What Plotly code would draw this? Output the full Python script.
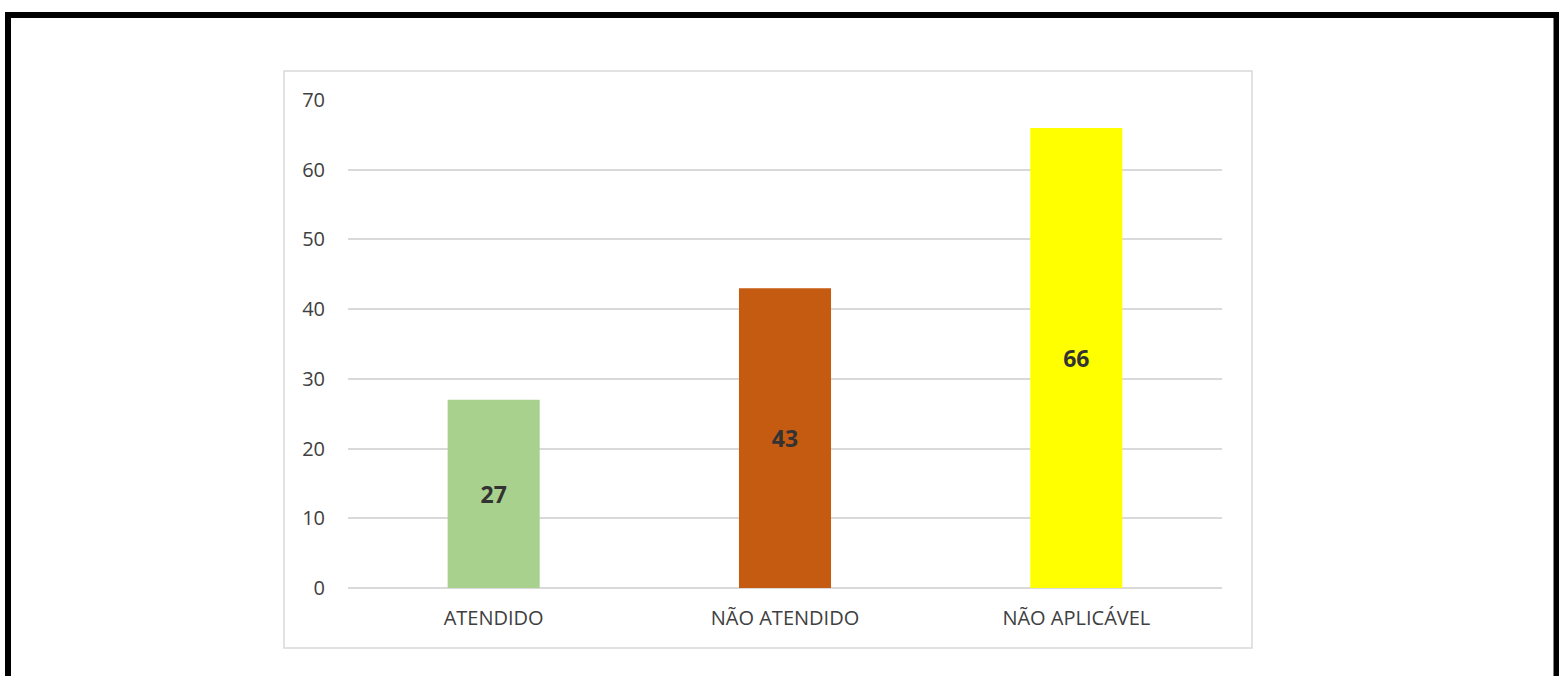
import plotly.graph_objects as go

categories = ["ATENDIDO", "NÃO ATENDIDO", "NÃO APLICÁVEL"]
values = [27, 43, 66]
colors = ["#a9d18e", "#c55a11", "#ffff00"]
y_ticks = [0, 10, 20, 30, 40, 50, 60, 70]

W, H = 1559, 676
L, R, T, B = 348, 1222, 100, 588

def px(x):
    return (x - L) / (R - L)

def py(y):
    return (B - y) / (B - T)

fig = go.Figure()
fig.add_trace(go.Bar(
    x=categories, y=values,
    marker=dict(color=colors, line=dict(width=0)),
    text=[str(v) for v in values],
    textposition="inside",
    insidetextanchor="middle",
    textangle=0,
    textfont=dict(family="Open Sans", size=23, color="#333333", weight="bold"),
    width=0.316,
    hoverinfo="skip",
))

shapes = [
    dict(type="rect", xref="paper", yref="paper",
         x0=px(284), x1=px(1252), y0=py(648), y1=py(71),
         line=dict(color="#d9d9d9", width=1.5), fillcolor="rgba(0,0,0,0)", layer="below"),
    dict(type="rect", xref="paper", yref="paper",
         x0=px(8), x1=px(1556.5), y0=py(720), y1=py(15),
         line=dict(color="black", width=6), fillcolor="rgba(0,0,0,0)"),
]

fig.update_layout(
    width=W, height=H,
    margin=dict(l=L, r=W - R, t=T, b=H - B),
    paper_bgcolor="white", plot_bgcolor="white",
    showlegend=False,
    shapes=shapes,
    font=dict(family="Open Sans", size=20, color="#404040"),
    xaxis=dict(showgrid=False, showline=False, zeroline=False, ticks="",
               ticklabelstandoff=16,
               tickfont=dict(size=20, color="#404040")),
    yaxis=dict(range=[0, 70], tickvals=y_ticks, showgrid=True, gridcolor="#d9d9d9",
               gridwidth=1.5, zeroline=True, zerolinecolor="#d9d9d9", zerolinewidth=1.5,
               showline=False, ticks="", ticklabelstandoff=22,
               tickfont=dict(size=20, color="#404040")),
)

fig.write_html("out.html", config={"displayModeBar": False},
               post_script="document.body.style.margin='0px';document.body.style.overflow='hidden';")
